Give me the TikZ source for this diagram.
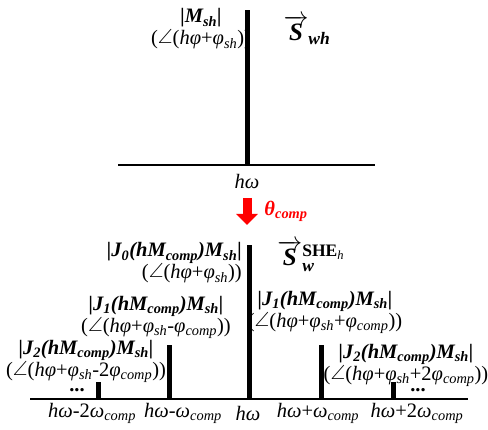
\documentclass[tikz,border=0pt]{standalone}
\usepackage{amsmath}
\usepackage{amssymb}
\usepackage{fontspec}
\setmainfont{Liberation Serif}
\usetikzlibrary{arrows.meta,positioning}
\definecolor{compRed}{RGB}{255,0,0}

\newcommand{\bi}[1]{\textbf{\textit{#1}}}
\newcommand{\sub}[1]{\textsubscript{#1}}
\newcommand{\jlab}[1]{\bi{|J\sub{#1}(hM\sub{comp})M\sub{sh}|}}
\newcommand{\phs}[1]{(\raisebox{0.1ex}{$\angle$}(\textit{hφ}+\textit{φ}\sub{\textit{sh}}#1))}
\newcommand{\vS}{\overrightarrow{\text{\bi{S}}}}

\begin{document}
\begin{tikzpicture}[x=1pt,y=-1pt,
    lbl/.style={inner sep=0pt, font=\fontsize{20.5}{22}\selectfont, align=center},
    big/.style={inner sep=0pt, font=\fontsize{25}{27}\selectfont},
    line/.style={line width=5pt},
    axis/.style={line width=1.6pt}]
    \useasboundingbox (0,0) rectangle (488,430);

    % Upper spectrum
    \coordinate (tl) at (118,165);
    \coordinate (tr) at (375,165);
    \coordinate (tb) at (247,165);
    \coordinate (tt) at (247,10);
    \draw[axis] (tl) -- (tr);
    \draw[line] (tb) -- (tt);
    \node[lbl] (tw) at (247,181) {\textit{hω}};
    \node[lbl] (tm) at (201,29) {\bi{|M\sub{sh}|}\\\phs{}};
    \node[big] (swh) at (307,30) {$\vS_{\text{\bi{wh}}}$};

    % Compensation arrow
    \coordinate (ra) at (247,198);
    \coordinate (rb) at (247,225);
    \draw[compRed, line width=9pt, -{Triangle[width=21pt,length=11pt]}] (ra) -- (rb);
    \node[lbl, compRed] (th) at (286,211) {\bi{θ\sub{comp}}};

    % Lower spectrum
    \coordinate (bl) at (30,399);
    \coordinate (br) at (468,399);
    \draw[axis] (bl) -- (br);
    \foreach \nm/\x/\y in {c0/249/245, m1/169/345, m2/98/382, p1/321/345, p2/393/382} {
        \coordinate (\nm b) at (\x,399);
        \coordinate (\nm t) at (\x,\y);
        \draw[line] (\nm b) -- (\nm t);
    }

    % Frequency labels
    \node[lbl] (fm2) at (92,413) {\textit{hω}-2\textit{ω}\sub{\textit{comp}}};
    \node[lbl] (fm1) at (183,413) {\textit{hω}-\textit{ω}\sub{\textit{comp}}};
    \node[lbl] (fc0) at (248,413) {\textit{hω}};
    \node[lbl] (fp1) at (318,413) {\textit{hω}+\textit{ω}\sub{\textit{comp}}};
    \node[lbl] (fp2) at (417,413) {\textit{hω}+2\textit{ω}\sub{\textit{comp}}};

    % Amplitude and phase labels
    \node[lbl, align=right, anchor=east] (a0) at (242,263) {\jlab{0}\\\phs{}};
    \node[lbl] (am1) at (156,317) {\jlab{1}\\\phs{-\textit{φ}\sub{\textit{comp}}}};
    \node[lbl] (am2) at (86,361) {\jlab{2}\\\phs{-2\textit{φ}\sub{\textit{comp}}}};
    \node[lbl] (ap1) at (325,312) {\jlab{1}\\\phs{+\textit{φ}\sub{\textit{comp}}}};
    \node[lbl] (ap2) at (406,365) {\jlab{2}\\\phs{+2\textit{φ}\sub{\textit{comp}}}};
    \node[big] (swshe) at (311,256)
        {$\vS_{\text{\bi{w}}}^{\text{\textbf{SHE}}_{\text{\textit{h}}}}$};

    % Dots
    \node[lbl, anchor=base] (dl) at (77,392) {\textbf{...}};
    \node[lbl, anchor=base] (dr) at (418,392) {\textbf{...}};
\end{tikzpicture}
\end{document}
